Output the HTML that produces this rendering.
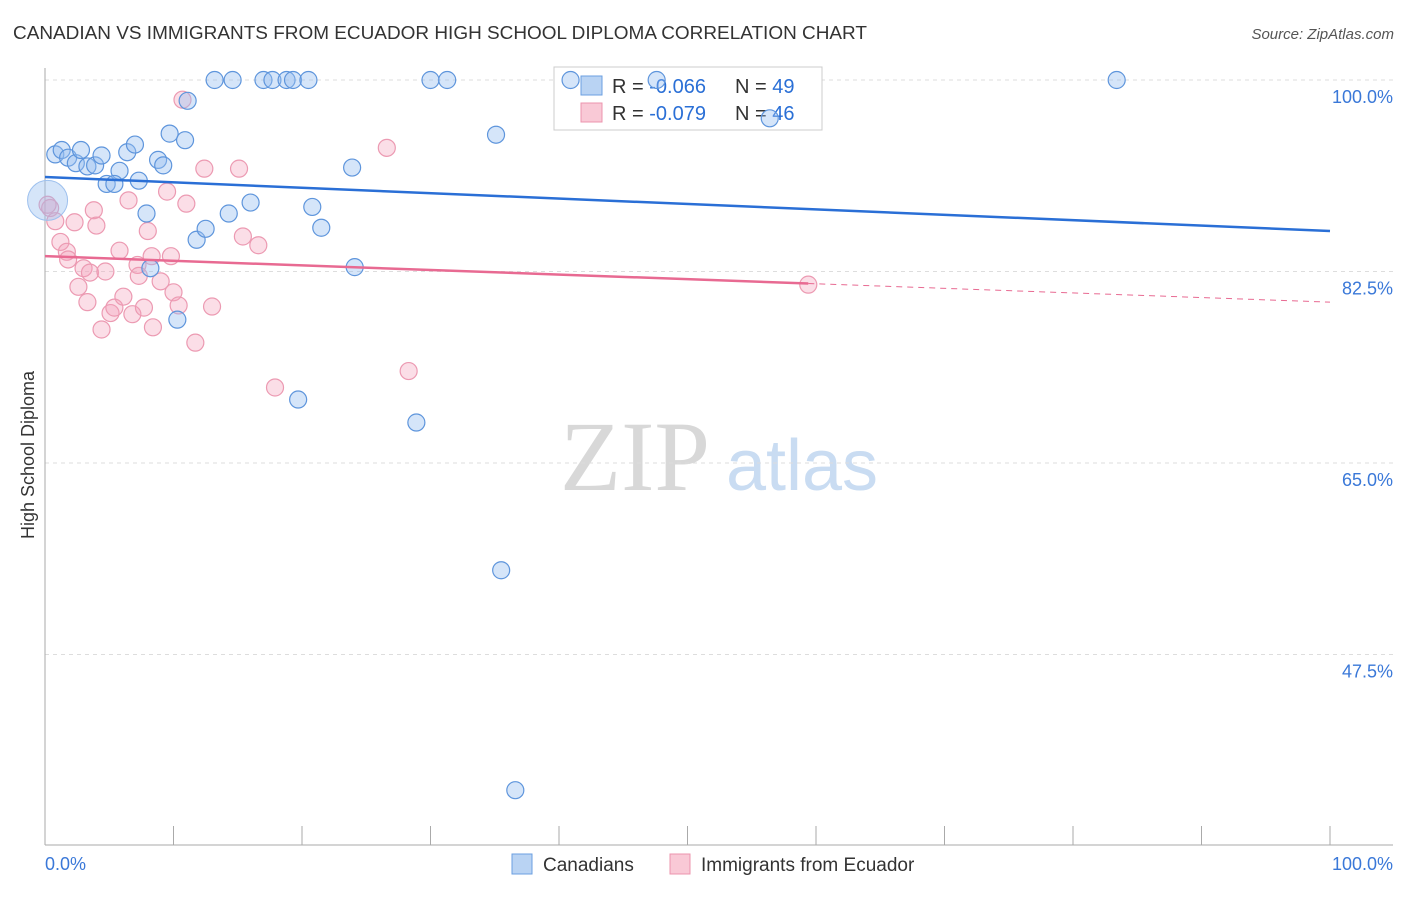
<!DOCTYPE html>
<html><head><meta charset="utf-8"><style>
body{margin:0;background:#fff;font-family:"Liberation Sans",sans-serif}
</style></head><body>
<svg id="c" width="1406" height="892" xmlns="http://www.w3.org/2000/svg" font-family="Liberation Sans, sans-serif">
<text x="13" y="39" font-size="18" fill="#333" textLength="854" lengthAdjust="spacingAndGlyphs">CANADIAN VS IMMIGRANTS FROM ECUADOR HIGH SCHOOL DIPLOMA CORRELATION CHART</text>
<text x="1394" y="39" font-size="15" fill="#555" font-style="italic" text-anchor="end">Source: ZipAtlas.com</text>
<text x="34" y="455" font-size="18" fill="#333" text-anchor="middle" transform="rotate(-90 34 455)">High School Diploma</text>
<g><text x="635" y="490" font-size="100" fill="#d8d8d8" style="font-family:'Liberation Serif',serif" text-anchor="middle">ZIP</text><text x="802" y="490" font-size="72" fill="#c9dcf2" text-anchor="middle">atlas</text></g>
<g id="grid"></g>
<g>
<rect x="554" y="67" width="268" height="63" fill="#fff" stroke="#ccc"/>
<rect x="581" y="76" width="21" height="19" fill="#b9d3f3" stroke="#6b9fe0"/>
<rect x="581" y="103" width="21" height="19" fill="#f9c9d6" stroke="#ec94ae"/>
<text x="612" y="93" font-size="20" fill="#333">R = <tspan fill="#2a6fd6">-0.066</tspan></text>
<text x="735" y="93" font-size="20" fill="#333">N = <tspan fill="#2a6fd6">49</tspan></text>
<text x="612" y="120" font-size="20" fill="#333">R = <tspan fill="#2a6fd6">-0.079</tspan></text>
<text x="735" y="120" font-size="20" fill="#333">N = <tspan fill="#2a6fd6">46</tspan></text>
</g>
<g id="marks"></g><g id="lines"></g>
<g>
<rect x="512" y="854" width="20" height="20" fill="#b9d3f3" stroke="#6b9fe0"/>
<text x="543" y="871" font-size="19" fill="#333">Canadians</text>
<rect x="670" y="854" width="20" height="20" fill="#f9c9d6" stroke="#ec94ae"/>
<text x="701" y="871" font-size="19" fill="#333">Immigrants from Ecuador</text>
</g>
</svg>
<script>
const yTicks=[100,82.5,65,47.5];
const yTickLabels=["100.0%","82.5%","65.0%","47.5%"];
const xTickLabels=["0.0%","100.0%"];
const blueX=[13.2,14.6,17.0,17.7,18.8,19.3,20.5,30.0,31.3,40.9,47.6,83.4,11.1,0.8,1.3,1.8,2.4,2.8,3.3,3.9,4.4,5.8,4.8,5.4,6.4,7.0,7.3,8.8,9.2,9.7,10.9,7.9,11.8,12.5,14.3,16.0,20.8,21.5,23.9,24.1,8.2,10.3,19.7,28.9,35.1,35.5,36.6,56.4];
const blueY=[100,100,100,100,100,100,100,100,100,100,100,100,98.1,93.2,93.6,92.9,92.4,93.6,92.1,92.2,93.1,91.7,90.5,90.5,93.4,94.1,90.8,92.7,92.2,95.1,94.5,87.8,85.4,86.4,87.8,88.8,88.4,86.5,92.0,82.9,82.8,78.1,70.8,68.7,95.0,55.2,35.1,96.5];
const pinkX=[0.4,0.8,1.2,2.3,3.8,4.0,1.7,1.8,2.6,3.0,3.3,3.5,4.7,5.1,5.4,5.8,6.1,4.4,6.5,6.8,7.2,7.3,7.7,8.0,8.3,8.4,9.0,9.5,9.8,10.0,10.4,11.0,11.7,10.7,12.4,13.0,15.1,15.4,16.6,17.9,26.6,28.3,59.4,0.2];
const pinkY=[88.3,87.1,85.2,87.0,88.1,86.7,84.3,83.6,81.1,82.8,79.7,82.4,82.5,78.7,79.2,84.4,80.2,77.2,89.0,78.6,83.1,82.1,79.2,86.2,83.9,77.4,81.6,89.8,83.9,80.6,79.4,88.7,76.0,98.2,91.9,79.3,91.9,85.7,84.9,71.9,93.8,73.4,81.3,88.6];
const bigBlue=[0.2,89.0];
const blueLine=[91.14,86.2];
const pinkLine=[83.9,79.7];
const pinkSolidEnd=59.4;
const X=v=>45+v*12.85, Y=v=>80+(100-v)*191.5/17.5;
const NS="http://www.w3.org/2000/svg";
function mk(p,t,a){const e=document.createElementNS(NS,t);for(const k in a)e.setAttribute(k,a[k]);p.appendChild(e);return e;}
const g=document.getElementById('grid');
yTicks.forEach((t,i)=>{
 const l=mk(g,'line',{x1:45,x2:1393,y1:Y(t),y2:Y(t),stroke:'#ddd','stroke-dasharray':'4,4'});
 
 
 const tx=mk(g,'text',{x:1393,y:Y(t)+23,'font-size':18,fill:'#3a78d8','text-anchor':'end'});tx.textContent=yTickLabels[i];
 
 
});
mk(g,'line',{x1:45,x2:45,y1:68,y2:845,stroke:'#aaa'});
mk(g,'line',{x1:45,x2:1393,y1:845,y2:845,stroke:'#aaa'});
for(let i=0;i<=10;i++){const l=mk(g,'line',{x1:X(i*10),x2:X(i*10),y1:826,y2:845,stroke:'#aaa'});
 
 }
let t0=mk(g,'text',{x:45,y:870,'font-size':18,fill:'#3a78d8'});t0.textContent=xTickLabels[0];


let t1=mk(g,'text',{x:1393,y:870,'font-size':18,fill:'#3a78d8','text-anchor':'end'});t1.textContent=xTickLabels[1];


const m=document.getElementById('marks');
pinkX.forEach((v,i)=>{const c=mk(m,'circle',{cx:X(v),cy:Y(pinkY[i]),r:8.5,fill:'rgba(244,160,185,0.35)',stroke:'#ec9ab2','stroke-width':1.2});
 
 });
const bb=mk(m,'circle',{cx:X(bigBlue[0]),cy:Y(bigBlue[1]),r:20,fill:'rgba(150,190,240,0.4)',stroke:'#9dc0ee'});


blueX.forEach((v,i)=>{const c=mk(m,'circle',{cx:X(v),cy:Y(blueY[i]),r:8.5,fill:'rgba(150,190,240,0.4)',stroke:'#5e95dc','stroke-width':1.2});
 
 });
const L=document.getElementById('lines');
const bl=mk(L,'line',{x1:X(0),y1:Y(blueLine[0]),x2:X(100),y2:Y(blueLine[1]),stroke:'#2a6fd6','stroke-width':2.5});


const py=x=>pinkLine[0]+(pinkLine[1]-pinkLine[0])*x/100;
const pl=mk(L,'line',{x1:X(0),y1:Y(py(0)),x2:X(pinkSolidEnd),y2:Y(py(pinkSolidEnd)),stroke:'#e86a92','stroke-width':2.5});


const pd=mk(L,'line',{x1:X(pinkSolidEnd),y1:Y(py(pinkSolidEnd)),x2:X(100),y2:Y(py(100)),stroke:'#e86a92','stroke-width':1,'stroke-dasharray':'6,5'});


</script>
</body></html>
